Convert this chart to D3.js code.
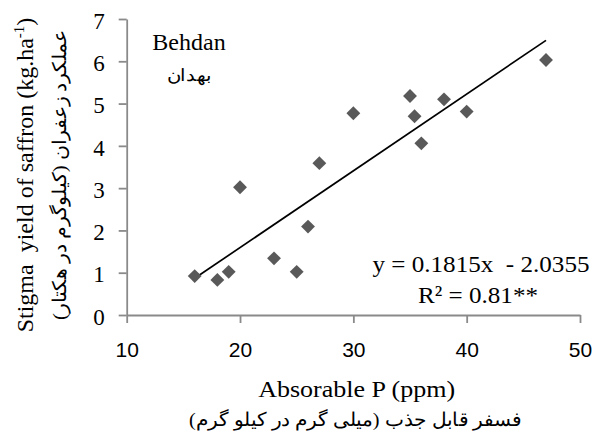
<!DOCTYPE html>
<html>
<head>
<meta charset="utf-8">
<script src="https://cdn.jsdelivr.net/npm/d3@7"></script>
<style>
  html, body { margin: 0; padding: 0; background: #fff; }
  svg { display: block; }
</style>
</head>
<body>
<svg id="chart" width="600" height="437"></svg>
<script>
// Data
const absorbableP = [16, 18, 19, 20, 23, 25, 26, 27, 30, 35, 35.4, 36, 38, 40, 47];
const stigmaYield = [0.92, 0.83, 1.02, 3.02, 1.34, 1.02, 2.09, 3.59, 4.77, 5.18, 4.70, 4.06, 5.10, 4.81, 6.03];
const xTicks = [10, 20, 30, 40, 50];
const yTicks = [0, 1, 2, 3, 4, 5, 6, 7];
const slope = 0.1815;
const intercept = -2.0355;
const fitRange = [16, 47];

const svg = d3.select("#chart");
const x = d3.scaleLinear().domain([10, 50]).range([126.7, 580]);
const y = d3.scaleLinear().domain([0, 7]).range([315, 19]);

const axisColor = "#8a8a8a";
const serif = "Liberation Serif";
const sans = "Liberation Sans";
const persian = "Liberation Serif";

// Y axis
const gy = svg.append("g").attr("transform", `translate(${x(10)},0)`)
  .call(d3.axisLeft(y).tickValues(yTicks).tickSize(8).tickSizeOuter(0).tickPadding(14).tickFormat(d3.format("d")));
gy.select(".domain").attr("stroke", axisColor).attr("stroke-width", 1.8);
gy.selectAll(".tick line").attr("stroke", axisColor).attr("stroke-width", 1.8);
gy.selectAll(".tick text").style("font-family", serif).style("font-size", "23px").attr("fill", "#000").attr("dy", "0.40em");

// X axis
const gx = svg.append("g").attr("transform", `translate(0,${y(0)})`)
  .call(d3.axisBottom(x).tickValues(xTicks).tickSize(8).tickSizeOuter(0).tickPadding(19).tickFormat(d3.format("d")));
gx.select(".domain").attr("stroke", axisColor).attr("stroke-width", 1.8);
gx.selectAll(".tick line").attr("stroke", axisColor).attr("stroke-width", 1.8);
gx.selectAll(".tick text").style("font-family", sans).style("font-size", "21px").attr("fill", "#000");

// Regression line
svg.append("line")
  .attr("x1", x(fitRange[0])).attr("y1", y(slope * fitRange[0] + intercept))
  .attr("x2", x(fitRange[1])).attr("y2", y(slope * fitRange[1] + intercept))
  .attr("stroke", "#000").attr("stroke-width", 1.7);

// Points (diamonds)
const pts = absorbableP.map((p, i) => ({ p, v: stigmaYield[i] }));
const diamond = d3.symbol().type(d3.symbolSquare).size(96);
svg.append("g").selectAll("path").data(pts).join("path")
  .attr("d", diamond)
  .attr("transform", d => `translate(${x(d.p)},${y(d.v)}) rotate(45)`)
  .attr("fill", "#595959");

// Site labels
svg.append("text").attr("x", 189).attr("y", 49.5).attr("text-anchor", "middle")
  .style("font-family", serif).style("font-size", "24px").text("Behdan");
svg.append("text").attr("x", 189).attr("y", 81).attr("text-anchor", "middle")
  .style("font-family", persian).style("font-size", "17px").attr("direction", "rtl")
  .attr("textLength", 45).attr("lengthAdjust", "spacingAndGlyphs").text("بهدان");

// Equation
svg.append("text").attr("x", 481).attr("y", 272).attr("text-anchor", "middle")
  .style("font-family", serif).style("font-size", "24px").style("white-space", "pre")
  .attr("textLength", 217).attr("lengthAdjust", "spacingAndGlyphs")
  .text("y = 0.1815x  - 2.0355");
svg.append("text").attr("x", 478).attr("y", 303).attr("text-anchor", "middle")
  .style("font-family", serif).style("font-size", "24px")
  .attr("textLength", 120).attr("lengthAdjust", "spacingAndGlyphs")
  .text("R² = 0.81**");

// X axis titles
svg.append("text").attr("x", 356.7).attr("y", 396.5).attr("text-anchor", "middle")
  .style("font-family", serif).style("font-size", "23px")
  .attr("textLength", 197).attr("lengthAdjust", "spacingAndGlyphs")
  .text("Absorable P (ppm)");
svg.append("text").attr("x", 355.5).attr("y", 426).attr("text-anchor", "middle")
  .style("font-family", persian).style("font-size", "19px").attr("direction", "rtl")
  .attr("textLength", 333).attr("lengthAdjust", "spacingAndGlyphs")
  .text("فسفر قابل جذب (میلی گرم در کیلو گرم)");

// Y axis titles
const yt = svg.append("text").attr("transform", "translate(32.7,175) rotate(-90)")
  .attr("text-anchor", "middle").style("font-family", serif).style("font-size", "24px")
  .style("white-space", "pre");
yt.append("tspan").text("Stigma  yield of saffron (kg.ha");
yt.append("tspan").style("font-size", "15px").attr("dy", -9).text("-1");
yt.append("tspan").attr("dy", 9).text(")");

svg.append("text").attr("transform", "translate(66,175) rotate(-90)")
  .attr("text-anchor", "middle").style("font-family", persian).style("font-size", "19px")
  .attr("direction", "rtl")
  .attr("textLength", 290).attr("lengthAdjust", "spacingAndGlyphs")
  .text("عملکرد زعفران (کیلوگرم در هکتار)");
</script>
</body>
</html>
